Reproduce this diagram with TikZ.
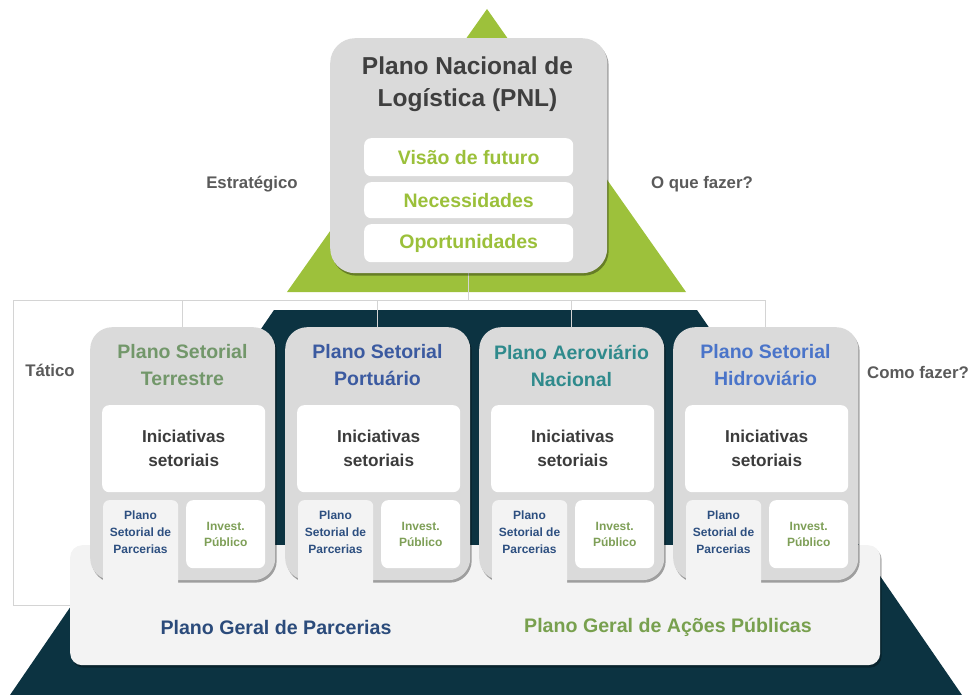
\documentclass[tikz,border=0pt]{standalone}
\usepackage{fontspec}
\setmainfont{Liberation Sans}
\usetikzlibrary{shadows}
\definecolor{lime}{HTML}{9DC13B}
\definecolor{navy}{HTML}{0C3341}
\definecolor{boxgray}{HTML}{DADADA}
\definecolor{geralfill}{HTML}{F3F3F3}
\definecolor{linegray}{HTML}{D4D4D4}
\definecolor{labgray}{HTML}{5A5A5A}
\definecolor{pnlgray}{HTML}{3F3F3F}
\definecolor{pnlgreen}{HTML}{9BC03A}
\definecolor{tTer}{HTML}{72976A}
\definecolor{tPor}{HTML}{3B5AA0}
\definecolor{tAer}{HTML}{2F8A8C}
\definecolor{tHid}{HTML}{4A74C9}
\definecolor{initx}{HTML}{3C3C3C}
\definecolor{parcblue}{HTML}{2D4F80}
\definecolor{invgreen}{HTML}{7E9F57}
\definecolor{gpblue}{HTML}{2B4B7B}
\definecolor{gagreen}{HTML}{78A04E}
\newcommand\myfs[2]{\fontsize{#1}{#2}\selectfont\bfseries}
\pgfdeclarelayer{bg}
\pgfsetlayers{bg,main}
\begin{document}
\begin{tikzpicture}[x=1pt,y=-1pt,
  graybox/.style={fill=boxgray, draw=none, rounded corners=22pt, inner sep=0pt,
    drop shadow={shadow xshift=1.5pt, shadow yshift=-2.5pt, opacity=.35, fill=black}},
  whitebox/.style={fill=white, rounded corners=7pt, inner sep=0pt, align=center},
  colbox/.style={fill=geralfill, rounded corners=6pt, inner sep=0pt},
  conn/.style={draw=linegray, line width=0.9pt},
  lab/.style={font=\myfs{16.8}{20}, text=labgray},
  txt/.style={inner sep=0pt, align=center}]
\useasboundingbox (0,0) rectangle (969,695);

% big bottom box
\node[fill=geralfill, rounded corners=12pt, minimum width=810pt, minimum height=120pt,
  anchor=north west, inner sep=0pt,
  drop shadow={shadow xshift=1.5pt, shadow yshift=-2.5pt, opacity=.3, fill=black}] (geral) at (70,545) {};
\node[txt, font=\myfs{19.6}{24}, text=gpblue] (gp) at (276,627) {Plano Geral de Parcerias};
\node[txt, font=\myfs{19.6}{24}, text=gagreen] (ga) at (668,627) {Plano Geral de Ações Públicas};

% PNL box
\node[graybox, rounded corners=25pt, minimum width=277pt, minimum height=235pt, anchor=north west] (pnl) at (330,38) {};
\node[txt, font=\myfs{24.5}{32}, text=pnlgray] (pnlt) at (467.5,84) {Plano Nacional de\\Logística (PNL)};
\node[whitebox, minimum width=209pt, minimum height=38pt, anchor=north west, font=\myfs{19.5}{24}, text=pnlgreen] (w1) at (364,138) {Visão de futuro};
\node[whitebox, minimum width=209pt, minimum height=36pt, anchor=north west, font=\myfs{19.5}{24}, text=pnlgreen] (w2) at (364,182) {Necessidades};
\node[whitebox, minimum width=209pt, minimum height=38pt, anchor=north west, font=\myfs{19.5}{24}, text=pnlgreen] (w3) at (364,224) {Oportunidades};

% side labels
\node[lab] (est) at (252,184) {Estratégico};
\node[lab] (oq) at (702,184) {O que fazer?};
\node[lab] (tat) at (50,370) {Tático};
\node[lab] (como) at (918,372) {Como fazer?};

% sector boxes
\foreach \i/\x/\c/\ta/\tb in {1/90/tTer/Plano Setorial/Terrestre,
    2/285/tPor/Plano Setorial/Portuário,
    3/479/tAer/Plano Aeroviário/Nacional,
    4/673/tHid/Plano Setorial/Hidroviário}{
  \node[graybox, minimum width=185pt, minimum height=253pt, anchor=north west] (b\i) at (\x,327) {};
  \node[txt, font=\myfs{19.5}{27}, text=\c] (t\i) at (\x+92.5,365.5) {\ta\\\tb};
  \node[whitebox, minimum width=163pt, minimum height=87pt, anchor=north west,
    font=\myfs{17.2}{24}, text=initx] (n\i) at (\x+12,405) {Iniciativas\\setoriais};
  \node[colbox, minimum width=75pt, minimum height=100pt, anchor=north west] (p\i) at (\x+13,500) {};
  \node[txt, font=\myfs{12}{17}, text=parcblue] (pt\i) at (\x+50.5,532) {Plano\\Setorial de\\Parcerias};
  \node[whitebox, minimum width=79pt, minimum height=68pt, anchor=north west,
    font=\myfs{12}{16}, text=invgreen] (v\i) at (\x+96,500) {Invest.\\Público};
}

\begin{pgfonlayer}{bg}
  \fill[lime] (487,9) -- (287,292) -- (686,292) -- cycle;
  \fill[navy] (274,310) -- (697,310) -- (962,695) -- (10,695) -- cycle;
  \coordinate (bus) at (pnl.south |- 0,300);
  \coordinate (bL) at (13,300);
  \coordinate (cL) at (13,605);
  \draw[conn] (pnl.south) -- (bus);
  \draw[conn] (bL) -- (b4.north |- bus);
  \foreach \i in {1,...,4} \draw[conn] (b\i.north |- bus) -- (b\i.north);
  \draw[conn] (bL) -- (cL) -- (cL -| geral.west);
\end{pgfonlayer}
\end{tikzpicture}
\end{document}
